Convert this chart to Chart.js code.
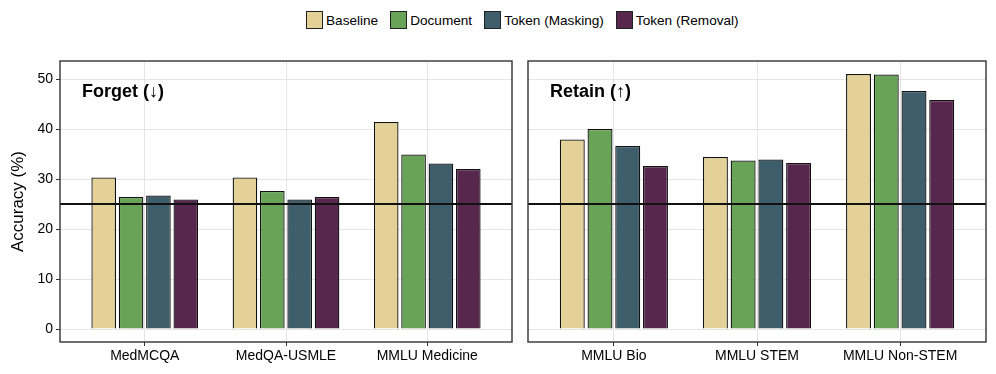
<!DOCTYPE html>
<html>
<head>
<meta charset="utf-8">
<script src="https://cdn.jsdelivr.net/npm/chart.js@4"></script>
<style>
  body{margin:0;background:#fff;font-family:"Liberation Sans",Arial,sans-serif;}
  #wrap{position:relative;width:996px;height:374px;}
  #legend{position:absolute;left:306px;top:11px;display:flex;align-items:center;font-size:13.6px;color:#000;}
  #legend .item{display:flex;align-items:center;margin-right:12px;}
  #legend .box{width:17px;height:18px;border:1px solid #222;box-sizing:border-box;margin-right:3px;}
  .panel{position:absolute;top:0;height:374px;}
</style>
</head>
<body>
<div id="wrap">
  <div id="legend"></div>
  <div class="panel" style="left:0;width:520px"><canvas id="forgetChart"></canvas></div>
  <div class="panel" style="left:520px;width:476px"><canvas id="retainChart"></canvas></div>
</div>
<script>
const seriesNames = ["Baseline","Document","Token (Masking)","Token (Removal)"];
const seriesColors = ["#e3d198","#68a357","#3f5e6b","#58274e"];

const forgetCategories = ["MedMCQA","MedQA-USMLE","MMLU Medicine"];
const forgetValues = [
    [30.3, 30.3, 41.4],
    [26.4, 27.6, 34.9],
    [26.7, 25.9, 33.1],
    [25.9, 26.4, 32.0]
];

const retainCategories = ["MMLU Bio","MMLU STEM","MMLU Non-STEM"];
const retainValues = [
    [37.9, 34.4, 51.0],
    [40.0, 33.7, 50.9],
    [36.6, 33.9, 47.6],
    [32.6, 33.2, 45.8]
];

const yTicks = [0,10,20,30,40,50];
const chanceLevel = 25;

const FONT = "'Liberation Sans', Arial, sans-serif";

// html legend
const legend = document.getElementById("legend");
seriesNames.forEach((name,i)=>{
    const item = document.createElement("div");
    item.className = "item";
    item.innerHTML = '<span class="box" style="background:'+seriesColors[i]+'"></span><span>'+name+'</span>';
    legend.appendChild(item);
});

const panelPlugin = {
    id:"panel",
    afterDatasetsDraw(chart, args, opts){
        const ctx = chart.ctx;
        const a = chart.chartArea;
        const y = chart.scales.y.getPixelForValue(chanceLevel);
        ctx.save();
        ctx.strokeStyle = "#111";
        ctx.lineWidth = 2;
        ctx.beginPath();
        ctx.moveTo(a.left, y);
        ctx.lineTo(a.right, y);
        ctx.stroke();
        ctx.strokeStyle = "#333";
        ctx.lineWidth = 1.4;
        ctx.strokeRect(a.left, a.top, a.right - a.left, a.bottom - a.top);
        ctx.fillStyle = "#000";
        ctx.font = "bold 18px " + FONT;
        ctx.textBaseline = "middle";
        ctx.fillText(opts.title, a.left + 22, a.top + 31);
        ctx.restore();
    }
};

function makeChart(id, categories, values, title, showY){
    const datasets = values.map((vals,i)=>({
        label:seriesNames[i],
        data:vals.map((v,j)=>({x:j, y:v})),
        backgroundColor:seriesColors[i],
        borderColor:"#111",
        borderWidth:1.3,
        barPercentage:0.9,
        categoryPercentage:0.775
    }));

    return new Chart(document.getElementById(id), {
        type:"bar",
        data:{datasets:datasets},
        plugins:[panelPlugin],
        options:{
            responsive:false,
            animation:false,
            layout:{padding:{top:61, right:showY ? 8 : 10, left:0, bottom:0}},
            plugins:{
                legend:{display:false},
                tooltip:{enabled:false},
                panel:{title:title}
            },
            scales:{
                x:{
                    type:"linear",
                    offset:false,
                    min:-0.6,
                    max:categories.length - 0.4,
                    afterBuildTicks:(s)=>{ s.ticks = categories.map((c,i)=>({value:i})); },
                    afterFit:(s)=>{ s.height = 32; },
                    ticks:{
                        callback:(v)=>categories[v],
                        color:"#000",
                        font:{family:FONT, size:14},
                        padding:2,
                        maxRotation:0,
                        autoSkip:false
                    },
                    grid:{color:"#e6e6e6", tickColor:"#333", tickLength:4, lineWidth:1, offset:false},
                    border:{display:false}
                },
                y:{
                    min:-2.6,
                    max:53.6,
                    afterBuildTicks:(s)=>{ s.ticks = yTicks.map(v=>({value:v})); },
                    afterFit:(s)=>{ s.width = showY ? 60 : 8; },
                    title:{
                        display:showY,
                        text:"Accuracy (%)",
                        color:"#000",
                        font:{family:FONT, size:17},
                        padding:{top:8, bottom:0}
                    },
                    ticks:{
                        display:showY,
                        color:"#000",
                        font:{family:FONT, size:14},
                        padding:3
                    },
                    grid:{color:"#e6e6e6", tickColor:"#333", tickLength:showY ? 4 : 0, drawTicks:showY, lineWidth:1},
                    border:{display:false}
                }
            }
        }
    });
}

// set canvas sizes before building
document.getElementById("forgetChart").width = 520;
document.getElementById("forgetChart").height = 374;
document.getElementById("retainChart").width = 476;
document.getElementById("retainChart").height = 374;

makeChart("forgetChart", forgetCategories, forgetValues, "Forget (\u2193)", true);
makeChart("retainChart", retainCategories, retainValues, "Retain (\u2191)", false);
</script>
</body>
</html>
